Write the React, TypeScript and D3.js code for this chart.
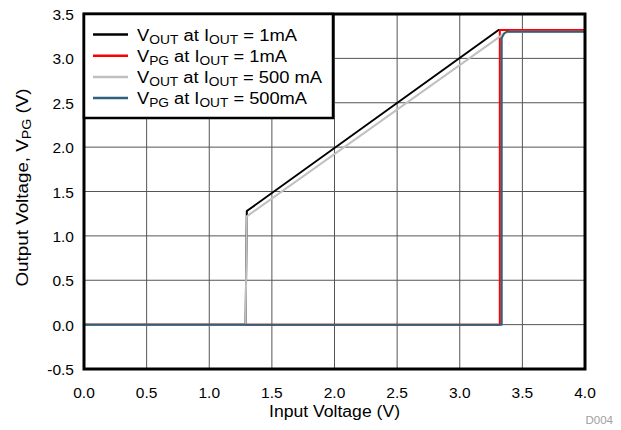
import React from "react";
import * as d3 from "d3";

type Pt = [number, number];

const xTicks = [0, 0.5, 1, 1.5, 2, 2.5, 3, 3.5, 4];
const yTicks = [-0.5, 0, 0.5, 1, 1.5, 2, 2.5, 3, 3.5];

const voutLight: Pt[] = [[0, 0], [1.29, 0], [1.3, 1.28], [3.31, 3.32], [4.0, 3.32]];
const vpgLight: Pt[] = [[0, 0], [3.32, 0], [3.32, 3.32], [4.0, 3.32]];
const voutHeavy: Pt[] = [[0, 0], [1.29, 0], [1.3, 1.22], [3.32, 3.245], [3.36, 3.29], [3.4, 3.3], [4.0, 3.3]];
const vpgHeavy: Pt[] = [[0, 0], [3.335, 0], [3.335, 3.23], [3.355, 3.28], [3.375, 3.3], [4.0, 3.3]];

const series = [
  { main: "V", sub1: "OUT", mid: " at I", sub2: "OUT", tail: " = 1mA", color: "#000000", data: voutLight, len: 160 },
  { main: "V", sub1: "PG", mid: " at I", sub2: "OUT", tail: " = 1mA", color: "#ff0000", data: vpgLight, len: 150 },
  { main: "V", sub1: "OUT", mid: " at I", sub2: "OUT", tail: " = 500 mA", color: "#c0c0c0", data: voutHeavy, len: 185 },
  { main: "V", sub1: "PG", mid: " at I", sub2: "OUT", tail: " = 500mA", color: "#30607c", data: vpgHeavy, len: 170 },
];

const W = 621, H = 430;
const L = 84, R = 585, T = 14, B = 369;

export default function App() {
  const x = d3.scaleLinear().domain([0, 4]).range([L, R]);
  const y = d3.scaleLinear().domain([-0.5, 3.5]).range([B, T]);
  const line = d3.line<Pt>().x(d => x(d[0])).y(d => y(d[1]));
  const font = "'Liberation Sans', Arial, Helvetica, sans-serif";
  return (
    <svg width={W} height={H} style={{ position: "fixed", left: 0, top: 0, background: "#fff" }} fontFamily={font}>
      <rect x={0} y={0} width={W} height={H} fill="#fff" />
      {xTicks.slice(1, -1).map(t => (
        <line key={"gx" + t} x1={x(t)} x2={x(t)} y1={T} y2={B} stroke="#555" strokeWidth={1} />
      ))}
      {yTicks.slice(1, -1).map(t => (
        <line key={"gy" + t} x1={L} x2={R} y1={y(t)} y2={y(t)} stroke="#555" strokeWidth={1} />
      ))}
      {series.map((s, i) => (
        <path key={"s" + i} d={line(s.data) || ""} fill="none" stroke={s.color} strokeWidth={2} strokeLinejoin="round" />
      ))}
      <rect x={L} y={T} width={R - L} height={B - T} fill="none" stroke="#000" strokeWidth={3} />
      {xTicks.map(t => (
        <text key={"tx" + t} x={x(t)} y={B + 29} textAnchor="middle" fontSize={15.5} fill="#000">{t.toFixed(1)}</text>
      ))}
      {yTicks.map(t => (
        <text key={"ty" + t} x={L - 10} y={y(t) + 6} textAnchor="end" fontSize={15.5} fill="#000">{t.toFixed(1)}</text>
      ))}
      <text x={(L + R) / 2} y={416.5} textAnchor="middle" fontSize={16} fill="#000" textLength={131} lengthAdjust="spacingAndGlyphs">Input Voltage (V)</text>
      <text transform={`translate(28, 187.5) rotate(-90)`} textAnchor="middle" fontSize={16} fill="#000" textLength={198} lengthAdjust="spacingAndGlyphs">
        Output Voltage, V<tspan fontSize={12} dy={3}>PG</tspan><tspan dy={-3}> (V)</tspan>
      </text>
      <text x={613} y={424} textAnchor="end" fontSize={11.5} fill="#a0a0a0">D004</text>
      <g>
        <rect x={L} y={T} width={333 - L} height={118 - T} fill="#fff" stroke="#000" strokeWidth={2.5} />
        {series.map((s, i) => {
          const ly = 34.5 + i * 21.2;
          return (
            <g key={"lg" + i}>
              <line x1={93} x2={128} y1={ly} y2={ly} stroke={s.color} strokeWidth={2.5} />
              <text x={137} y={ly + 6} fontSize={16} fill="#000" textLength={s.len} lengthAdjust="spacingAndGlyphs">
                {s.main}<tspan fontSize={12} dy={3}>{s.sub1}</tspan><tspan dy={-3}>{s.mid}</tspan><tspan fontSize={12} dy={3}>{s.sub2}</tspan><tspan dy={-3}>{s.tail}</tspan>
              </text>
            </g>
          );
        })}
      </g>
    </svg>
  );
}
